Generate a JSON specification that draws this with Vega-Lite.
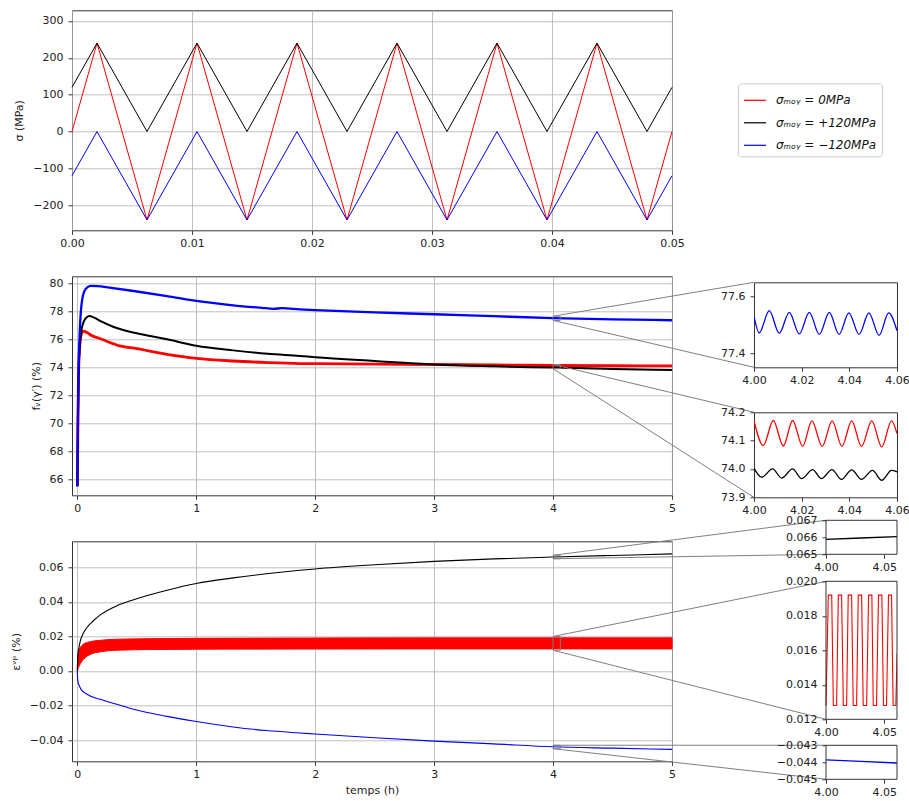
{
  "$schema": "https://vega.github.io/schema/vega-lite/v6.json",
  "autosize": {"type": "pad"},
  "padding": {"left": 9, "top": 9.3, "right": 0, "bottom": 5},
  "background": "white",
  "config": {
    "font": "DejaVu Sans",
    "view": {"stroke": "#333333", "strokeWidth": 1},
    "axis": {"domain": false, "labelFontSize": 11, "labelColor": "#222222", "tickColor": "#222222", "tickSize": 4, "tickWidth": 0.9, "titleFontSize": 11, "titleFontWeight": "normal", "titleColor": "#222222", "gridColor": "#b0b0b0", "gridWidth": 0.8, "labelFlush": false, "labelOverlap": false, "titlePadding": 8},
    "axisX": {"labelPadding": 3.5, "titlePadding": 5},
    "axisY": {"labelPadding": 5}
  },
  "datasets": {
    "sig": [
      {"t":0,"s":"0","v":0},{"t":0.002083,"s":"0","v":240},{"t":0.00625,"s":"0","v":-240},{"t":0.010417,"s":"0","v":240},{"t":0.014583,"s":"0","v":-240},{"t":0.01875,"s":"0","v":240},{"t":0.022917,"s":"0","v":-240},{"t":0.027083,"s":"0","v":240},{"t":0.03125,"s":"0","v":-240},{"t":0.035417,"s":"0","v":240},{"t":0.039583,"s":"0","v":-240},{"t":0.04375,"s":"0","v":240},{"t":0.047917,"s":"0","v":-240},{"t":0.05,"s":"0","v":0},
      {"t":0,"s":"+120","v":120},{"t":0.002083,"s":"+120","v":240},{"t":0.00625,"s":"+120","v":0},{"t":0.010417,"s":"+120","v":240},{"t":0.014583,"s":"+120","v":0},{"t":0.01875,"s":"+120","v":240},{"t":0.022917,"s":"+120","v":0},{"t":0.027083,"s":"+120","v":240},{"t":0.03125,"s":"+120","v":0},{"t":0.035417,"s":"+120","v":240},{"t":0.039583,"s":"+120","v":0},{"t":0.04375,"s":"+120","v":240},{"t":0.047917,"s":"+120","v":0},{"t":0.05,"s":"+120","v":120},
      {"t":0,"s":"-120","v":-120},{"t":0.002083,"s":"-120","v":0},{"t":0.00625,"s":"-120","v":-240},{"t":0.010417,"s":"-120","v":0},{"t":0.014583,"s":"-120","v":-240},{"t":0.01875,"s":"-120","v":0},{"t":0.022917,"s":"-120","v":-240},{"t":0.027083,"s":"-120","v":0},{"t":0.03125,"s":"-120","v":-240},{"t":0.035417,"s":"-120","v":0},{"t":0.039583,"s":"-120","v":-240},{"t":0.04375,"s":"-120","v":0},{"t":0.047917,"s":"-120","v":-240},{"t":0.05,"s":"-120","v":-120}
    ],
    "fv": [
      {"t":0,"s":"0","v":65.5},{"t":0.005,"s":"0","v":70.5},{"t":0.01,"s":"0","v":73.5},{"t":0.02,"s":"0","v":75.5},{"t":0.035,"s":"0","v":76.4},{"t":0.053,"s":"0","v":76.59},{"t":0.08,"s":"0","v":76.48},{"t":0.12,"s":"0","v":76.28},{"t":0.193,"s":"0","v":76.04},{"t":0.333,"s":"0","v":75.59},{"t":0.5,"s":"0","v":75.33},{"t":0.754,"s":"0","v":74.93},{"t":1.0,"s":"0","v":74.64},{"t":1.31,"s":"0","v":74.45},{"t":1.6,"s":"0","v":74.34},{"t":1.87,"s":"0","v":74.27},{"t":2.0,"s":"0","v":74.26},{"t":2.5,"s":"0","v":74.23},{"t":3.0,"s":"0","v":74.2},{"t":3.5,"s":"0","v":74.17},{"t":4.0,"s":"0","v":74.13},{"t":4.5,"s":"0","v":74.11},{"t":5.0,"s":"0","v":74.1},
      {"t":0,"s":"+120","v":65.5},{"t":0.005,"s":"+120","v":70.5},{"t":0.01,"s":"+120","v":73.3},{"t":0.02,"s":"+120","v":75.4},{"t":0.04,"s":"+120","v":76.9},{"t":0.07,"s":"+120","v":77.5},{"t":0.1,"s":"+120","v":77.66},{"t":0.14,"s":"+120","v":77.55},{"t":0.2,"s":"+120","v":77.28},{"t":0.3,"s":"+120","v":76.9},{"t":0.4,"s":"+120","v":76.63},{"t":0.5,"s":"+120","v":76.43},{"t":0.754,"s":"+120","v":76.0},{"t":1.0,"s":"+120","v":75.54},{"t":1.31,"s":"+120","v":75.21},{"t":1.6,"s":"+120","v":74.97},{"t":1.87,"s":"+120","v":74.81},{"t":2.0,"s":"+120","v":74.72},{"t":2.5,"s":"+120","v":74.45},{"t":3.0,"s":"+120","v":74.2},{"t":3.5,"s":"+120","v":74.07},{"t":4.0,"s":"+120","v":73.98},{"t":4.5,"s":"+120","v":73.88},{"t":5.0,"s":"+120","v":73.8},
      {"t":0,"s":"-120","v":65.5},{"t":0.005,"s":"-120","v":70},{"t":0.01,"s":"-120","v":73.5},{"t":0.02,"s":"-120","v":76.5},{"t":0.04,"s":"-120","v":78.8},{"t":0.07,"s":"-120","v":79.6},{"t":0.11,"s":"-120","v":79.82},{"t":0.17,"s":"-120","v":79.8},{"t":0.27,"s":"-120","v":79.69},{"t":0.473,"s":"-120","v":79.45},{"t":0.754,"s":"-120","v":79.09},{"t":1.0,"s":"-120","v":78.74},{"t":1.31,"s":"-120","v":78.43},{"t":1.55,"s":"-120","v":78.25},{"t":1.65,"s":"-120","v":78.18},{"t":1.72,"s":"-120","v":78.22},{"t":1.87,"s":"-120","v":78.14},{"t":2.0,"s":"-120","v":78.09},{"t":2.5,"s":"-120","v":77.92},{"t":3.0,"s":"-120","v":77.79},{"t":3.5,"s":"-120","v":77.65},{"t":4.0,"s":"-120","v":77.52},{"t":4.5,"s":"-120","v":77.43},{"t":5.0,"s":"-120","v":77.36}
    ],
    "eps": [
      {"t":0,"s":"+120","v":0},{"t":0.002,"s":"+120","v":0.006},{"t":0.005,"s":"+120","v":0.0095},{"t":0.011,"s":"+120","v":0.0126},{"t":0.025,"s":"+120","v":0.0175},{"t":0.05,"s":"+120","v":0.0218},{"t":0.081,"s":"+120","v":0.0252},{"t":0.13,"s":"+120","v":0.0288},{"t":0.193,"s":"+120","v":0.0325},{"t":0.333,"s":"+120","v":0.0378},{"t":0.473,"s":"+120","v":0.0413},{"t":0.754,"s":"+120","v":0.0468},{"t":1.0,"s":"+120","v":0.0507},{"t":1.31,"s":"+120","v":0.0539},{"t":1.59,"s":"+120","v":0.0563},{"t":1.87,"s":"+120","v":0.0583},{"t":2.0,"s":"+120","v":0.0591},{"t":2.5,"s":"+120","v":0.0615},{"t":3.0,"s":"+120","v":0.0635},{"t":3.5,"s":"+120","v":0.0649},{"t":4.0,"s":"+120","v":0.066},{"t":4.5,"s":"+120","v":0.0669},{"t":5.0,"s":"+120","v":0.0678},
      {"t":0,"s":"-120","v":0},{"t":0.002,"s":"-120","v":-0.004},{"t":0.006,"s":"-120","v":-0.0068},{"t":0.011,"s":"-120","v":-0.0077},{"t":0.03,"s":"-120","v":-0.0105},{"t":0.081,"s":"-120","v":-0.0135},{"t":0.193,"s":"-120","v":-0.0164},{"t":0.333,"s":"-120","v":-0.0193},{"t":0.473,"s":"-120","v":-0.0222},{"t":0.754,"s":"-120","v":-0.0263},{"t":1.0,"s":"-120","v":-0.0293},{"t":1.31,"s":"-120","v":-0.0324},{"t":1.59,"s":"-120","v":-0.0345},{"t":1.87,"s":"-120","v":-0.0359},{"t":2.0,"s":"-120","v":-0.0365},{"t":2.5,"s":"-120","v":-0.0387},{"t":3.0,"s":"-120","v":-0.0406},{"t":3.5,"s":"-120","v":-0.0422},{"t":4.0,"s":"-120","v":-0.0439},{"t":4.5,"s":"-120","v":-0.0447},{"t":5.0,"s":"-120","v":-0.0454}
    ],
    "band": [
      {"t":0,"lo":0,"hi":0.002},{"t":0.003,"lo":0.0008,"hi":0.008},{"t":0.01,"lo":0.002,"hi":0.0115},{"t":0.025,"lo":0.0042,"hi":0.0136},{"t":0.05,"lo":0.0066,"hi":0.0155},{"t":0.1,"lo":0.0093,"hi":0.0168},{"t":0.2,"lo":0.0112,"hi":0.0178},{"t":0.33,"lo":0.012,"hi":0.0184},{"t":0.6,"lo":0.0124,"hi":0.0187},{"t":1.0,"lo":0.0126,"hi":0.0189},{"t":2.0,"lo":0.0127,"hi":0.0191},{"t":3.0,"lo":0.0128,"hi":0.0192},{"t":5.0,"lo":0.0128,"hi":0.0192}
    ],
    "fvz": [
      {"t":4.0,"s":"-120","v":77.53},{"t":4.0022,"s":"-120","v":77.472},{"t":4.0064,"s":"-120","v":77.55},{"t":4.0106,"s":"-120","v":77.47},{"t":4.0148,"s":"-120","v":77.544},{"t":4.019,"s":"-120","v":77.468},{"t":4.0232,"s":"-120","v":77.544},{"t":4.0274,"s":"-120","v":77.466},{"t":4.0316,"s":"-120","v":77.544},{"t":4.0357,"s":"-120","v":77.466},{"t":4.0398,"s":"-120","v":77.542},{"t":4.0441,"s":"-120","v":77.466},{"t":4.0482,"s":"-120","v":77.542},{"t":4.0525,"s":"-120","v":77.463},{"t":4.0565,"s":"-120","v":77.542},{"t":4.06,"s":"-120","v":77.479},
      {"t":4.0,"s":"0","v":74.17},{"t":4.0039,"s":"0","v":74.083},{"t":4.0081,"s":"0","v":74.171},{"t":4.0123,"s":"0","v":74.081},{"t":4.0162,"s":"0","v":74.171},{"t":4.0204,"s":"0","v":74.08},{"t":4.0243,"s":"0","v":74.17},{"t":4.0286,"s":"0","v":74.08},{"t":4.0328,"s":"0","v":74.17},{"t":4.0369,"s":"0","v":74.08},{"t":4.041,"s":"0","v":74.17},{"t":4.0451,"s":"0","v":74.079},{"t":4.0494,"s":"0","v":74.17},{"t":4.0536,"s":"0","v":74.078},{"t":4.0577,"s":"0","v":74.17},{"t":4.06,"s":"0","v":74.125},
      {"t":4.0,"s":"+120","v":74.003},{"t":4.0032,"s":"+120","v":73.971},{"t":4.0078,"s":"+120","v":74.0},{"t":4.0116,"s":"+120","v":73.968},{"t":4.0162,"s":"+120","v":74.0},{"t":4.02,"s":"+120","v":73.966},{"t":4.0246,"s":"+120","v":73.998},{"t":4.0283,"s":"+120","v":73.966},{"t":4.0327,"s":"+120","v":73.998},{"t":4.0367,"s":"+120","v":73.963},{"t":4.041,"s":"+120","v":73.997},{"t":4.0451,"s":"+120","v":73.963},{"t":4.0497,"s":"+120","v":73.995},{"t":4.0536,"s":"+120","v":73.96},{"t":4.0577,"s":"+120","v":73.995},{"t":4.06,"s":"+120","v":73.99}
    ],
    "epsz": [
      {"t":4.0,"s":"+120","v":0.06588},{"t":4.03,"s":"+120","v":0.06596},{"t":4.061,"s":"+120","v":0.06604},
      {"t":4.0,"s":"-120","v":-0.04386},{"t":4.03,"s":"-120","v":-0.04395},{"t":4.061,"s":"-120","v":-0.04404},
      {"t":4.0,"s":"0","v":0.0128},{"t":4.002,"s":"0","v":0.0192},{"t":4.0049,"s":"0","v":0.0192},{"t":4.0063,"s":"0","v":0.0128},{"t":4.0091,"s":"0","v":0.0128},{"t":4.0106,"s":"0","v":0.0192},{"t":4.0134,"s":"0","v":0.0192},{"t":4.0149,"s":"0","v":0.0128},{"t":4.0177,"s":"0","v":0.0128},{"t":4.0191,"s":"0","v":0.0192},{"t":4.022,"s":"0","v":0.0192},{"t":4.0234,"s":"0","v":0.0128},{"t":4.0263,"s":"0","v":0.0128},{"t":4.0277,"s":"0","v":0.0192},{"t":4.0306,"s":"0","v":0.0192},{"t":4.032,"s":"0","v":0.0128},{"t":4.0349,"s":"0","v":0.0128},{"t":4.0366,"s":"0","v":0.0192},{"t":4.0394,"s":"0","v":0.0192},{"t":4.0406,"s":"0","v":0.0128},{"t":4.0434,"s":"0","v":0.0128},{"t":4.0451,"s":"0","v":0.0192},{"t":4.048,"s":"0","v":0.0192},{"t":4.0494,"s":"0","v":0.0128},{"t":4.052,"s":"0","v":0.0128},{"t":4.0537,"s":"0","v":0.0192},{"t":4.0563,"s":"0","v":0.0192},{"t":4.0577,"s":"0","v":0.0128},{"t":4.06,"s":"0","v":0.0128},{"t":4.0611,"s":"0","v":0.0158}
    ],
    "box": [
      {"p":"fv","t1":4.0,"t2":4.06,"lo":77.35,"hi":77.65},
      {"p":"fv","t1":4.0,"t2":4.06,"lo":73.9,"hi":74.2},
      {"p":"eps","t1":4.0,"t2":4.061,"lo":0.065,"hi":0.067},
      {"p":"eps","t1":4.0,"t2":4.061,"lo":0.012,"hi":0.02},
      {"p":"eps","t1":4.0,"t2":4.061,"lo":-0.045,"hi":-0.043}
    ],
    "link": [
      {"p":"fv","t1":4.0,"v1":77.65,"t2":5.689,"v2":80.07},
      {"p":"fv","t1":4.0,"v1":77.35,"t2":5.689,"v2":74.0},
      {"p":"fv","t1":4.0,"v1":74.2,"t2":5.689,"v2":70.79},
      {"p":"fv","t1":4.0,"v1":73.9,"t2":5.689,"v2":64.71},
      {"p":"eps","t1":4.0,"v1":0.067,"t2":6.295,"v2":0.0873},
      {"p":"eps","t1":4.0,"v1":0.065,"t2":6.295,"v2":0.0676},
      {"p":"eps","t1":4.0,"v1":0.02,"t2":6.295,"v2":0.0519},
      {"p":"eps","t1":4.0,"v1":0.012,"t2":6.295,"v2":-0.028},
      {"p":"eps","t1":4.0,"v1":-0.043,"t2":6.295,"v2":-0.043},
      {"p":"eps","t1":4.0,"v1":-0.045,"t2":6.295,"v2":-0.0627}
    ]
  },
  "spacing": 682,
  "bounds": "flush",
  "hconcat": [
    {
      "spacing": 46,
      "bounds": "flush",
      "vconcat": [
        {
          "width": 600, "height": 220,
          "data": {"name": "sig"},
          "mark": {"type": "line", "strokeWidth": 1},
          "encoding": {
            "x": {"field": "t", "type": "quantitative", "scale": {"domain": [0, 0.05], "nice": false, "zero": false}, "axis": {"values": [0, 0.01, 0.02, 0.03, 0.04, 0.05], "tickCount": 50, "format": ".2f", "title": null, "grid": true}},
            "y": {"field": "v", "type": "quantitative", "scale": {"domain": [-268, 329], "nice": false, "zero": false}, "axis": {"values": [-200, -100, 0, 100, 200, 300], "tickCount": 50, "title": "σ (MPa)", "grid": true}},
            "color": {"field": "s", "type": "nominal", "scale": {"domain": ["0", "+120", "-120"], "range": ["#ff0000", "#000000", "#0000ff"]},
              "legend": {"orient": "none", "legendX": 666, "legendY": 73, "title": null, "symbolType": "stroke", "symbolSize": 484, "symbolStrokeWidth": 1.2, "labelFontSize": 12, "labelFont": "DejaVu Sans", "labelFontStyle": "italic", "labelColor": "#111111", "labelOffset": 9, "padding": 5, "rowPadding": 4.5, "strokeColor": "#cccccc", "fillColor": "#ffffff", "cornerRadius": 3,
                "labelExpr": "datum.value == '0' ? 'σₘₒᵧ = 0MPa' : datum.value == '+120' ? 'σₘₒᵧ = +120MPa' : 'σₘₒᵧ = −120MPa'"}}
          }
        },
        {
          "width": 600, "height": 219,
          "layer": [
            {
              "data": {"name": "fv"}, "transform": [{"filter": "datum.s == '0'"}],
              "mark": {"type": "line", "color": "#ff0000", "strokeWidth": 2.8, "interpolate": "monotone"},
              "encoding": {
                "x": {"field": "t", "type": "quantitative", "scale": {"domain": [-0.045, 5.0], "nice": false, "zero": false}, "axis": {"values": [0, 1, 2, 3, 4, 5], "tickCount": 50, "format": "d", "title": null, "grid": true}},
                "y": {"field": "v", "type": "quantitative", "scale": {"domain": [64.86, 80.5], "nice": false, "zero": false}, "axis": {"values": [66, 68, 70, 72, 74, 76, 78, 80], "tickCount": 50, "format": "d", "title": "fᵥ(γ′) (%)", "grid": true}}
              }
            },
            {
              "data": {"name": "fv"}, "transform": [{"filter": "datum.s == '+120'"}],
              "mark": {"type": "line", "color": "#000000", "strokeWidth": 2.0, "interpolate": "monotone"},
              "encoding": {
                "x": {"field": "t", "type": "quantitative", "scale": {"domain": [-0.045, 5.0], "nice": false, "zero": false}},
                "y": {"field": "v", "type": "quantitative", "scale": {"domain": [64.86, 80.5], "nice": false, "zero": false}}
              }
            },
            {
              "data": {"name": "fv"}, "transform": [{"filter": "datum.s == '-120'"}],
              "mark": {"type": "line", "color": "#0000ff", "strokeWidth": 2.3, "interpolate": "monotone"},
              "encoding": {
                "x": {"field": "t", "type": "quantitative", "scale": {"domain": [-0.045, 5.0], "nice": false, "zero": false}},
                "y": {"field": "v", "type": "quantitative", "scale": {"domain": [64.86, 80.5], "nice": false, "zero": false}}
              }
            },
            {
              "data": {"name": "box"}, "transform": [{"filter": "datum.p == 'fv'"}],
              "mark": {"type": "rect", "fillOpacity": 0, "stroke": "#808080", "strokeWidth": 1},
              "encoding": {
                "x": {"field": "t1", "type": "quantitative", "scale": {"domain": [-0.045, 5.0], "nice": false, "zero": false}},
                "x2": {"field": "t2"},
                "y": {"field": "lo", "type": "quantitative", "scale": {"domain": [64.86, 80.5], "nice": false, "zero": false}},
                "y2": {"field": "hi"}
              }
            },
            {
              "data": {"name": "link"}, "transform": [{"filter": "datum.p == 'fv'"}],
              "mark": {"type": "rule", "color": "#808080", "strokeWidth": 1, "clip": false},
              "encoding": {
                "x": {"field": "t1", "type": "quantitative", "scale": {"domain": [-0.045, 5.0], "nice": false, "zero": false}},
                "x2": {"field": "t2"},
                "y": {"field": "v1", "type": "quantitative", "scale": {"domain": [64.86, 80.5], "nice": false, "zero": false}},
                "y2": {"field": "v2"}
              }
            }
          ]
        },
        {
          "width": 600, "height": 220,
          "layer": [
            {
              "data": {"name": "band"},
              "mark": {"type": "area", "color": "#ff0000", "stroke": "#ff0000", "strokeWidth": 1, "interpolate": "monotone"},
              "encoding": {
                "x": {"field": "t", "type": "quantitative", "scale": {"domain": [-0.045, 5.0], "nice": false, "zero": false}, "axis": {"values": [0, 1, 2, 3, 4, 5], "tickCount": 50, "format": "d", "title": "temps (h)", "grid": true}},
                "y": {"field": "lo", "type": "quantitative", "scale": {"domain": [-0.0523, 0.0751], "nice": false, "zero": false}, "axis": {"values": [-0.04, -0.02, 0, 0.02, 0.04, 0.06], "tickCount": 50, "format": ".2f", "title": "εᵛᵖ (%)", "grid": true}},
                "y2": {"field": "hi"}
              }
            },
            {
              "data": {"name": "eps"}, "transform": [{"filter": "datum.s == '+120'"}],
              "mark": {"type": "line", "color": "#000000", "strokeWidth": 1.1, "interpolate": "monotone"},
              "encoding": {
                "x": {"field": "t", "type": "quantitative", "scale": {"domain": [-0.045, 5.0], "nice": false, "zero": false}},
                "y": {"field": "v", "type": "quantitative", "scale": {"domain": [-0.0523, 0.0751], "nice": false, "zero": false}}
              }
            },
            {
              "data": {"name": "eps"}, "transform": [{"filter": "datum.s == '-120'"}],
              "mark": {"type": "line", "color": "#0000ff", "strokeWidth": 1.1, "interpolate": "monotone"},
              "encoding": {
                "x": {"field": "t", "type": "quantitative", "scale": {"domain": [-0.045, 5.0], "nice": false, "zero": false}},
                "y": {"field": "v", "type": "quantitative", "scale": {"domain": [-0.0523, 0.0751], "nice": false, "zero": false}}
              }
            },
            {
              "data": {"name": "box"}, "transform": [{"filter": "datum.p == 'eps'"}],
              "mark": {"type": "rect", "fillOpacity": 0, "stroke": "#808080", "strokeWidth": 1},
              "encoding": {
                "x": {"field": "t1", "type": "quantitative", "scale": {"domain": [-0.045, 5.0], "nice": false, "zero": false}},
                "x2": {"field": "t2"},
                "y": {"field": "lo", "type": "quantitative", "scale": {"domain": [-0.0523, 0.0751], "nice": false, "zero": false}},
                "y2": {"field": "hi"}
              }
            },
            {
              "data": {"name": "link"}, "transform": [{"filter": "datum.p == 'eps'"}],
              "mark": {"type": "rule", "color": "#808080", "strokeWidth": 1, "clip": false},
              "encoding": {
                "x": {"field": "t1", "type": "quantitative", "scale": {"domain": [-0.045, 5.0], "nice": false, "zero": false}},
                "x2": {"field": "t2"},
                "y": {"field": "v1", "type": "quantitative", "scale": {"domain": [-0.0523, 0.0751], "nice": false, "zero": false}},
                "y2": {"field": "v2"}
              }
            }
          ]
        }
      ]
    },
    {
      "spacing": 0,
      "bounds": "flush",
      "vconcat": [
        {"width": 1, "height": 272, "view": {"stroke": null}, "data": {"values": [{}]}, "mark": {"type": "point", "opacity": 0}},
        {
          "width": 143, "height": 85,
          "data": {"name": "fvz"},
          "transform": [{"filter": "datum.s == '-120'"}],
          "mark": {"type": "line", "color": "#0000ff", "strokeWidth": 1.3, "interpolate": "monotone", "clip": true},
          "encoding": {
            "x": {"field": "t", "type": "quantitative", "scale": {"domain": [4.0, 4.06], "nice": false, "zero": false}, "axis": {"values": [4.0, 4.02, 4.04, 4.06], "tickCount": 50, "format": ".2f", "title": null, "grid": false}},
            "y": {"field": "v", "type": "quantitative", "scale": {"domain": [77.35, 77.65], "nice": false, "zero": false}, "axis": {"values": [77.4, 77.6], "tickCount": 50, "format": ".1f", "title": null, "grid": false}}
          }
        },
        {"width": 1, "height": 45, "view": {"stroke": null}, "data": {"values": [{}]}, "mark": {"type": "point", "opacity": 0}},
        {
          "width": 143, "height": 85,
          "layer": [
            {
              "data": {"name": "fvz"}, "transform": [{"filter": "datum.s == '0'"}],
              "mark": {"type": "line", "color": "#ff0000", "strokeWidth": 1.3, "interpolate": "monotone", "clip": true},
              "encoding": {
                "x": {"field": "t", "type": "quantitative", "scale": {"domain": [4.0, 4.06], "nice": false, "zero": false}, "axis": {"values": [4.0, 4.02, 4.04, 4.06], "tickCount": 50, "format": ".2f", "title": null, "grid": false}},
                "y": {"field": "v", "type": "quantitative", "scale": {"domain": [73.9, 74.2], "nice": false, "zero": false}, "axis": {"values": [73.9, 74.0, 74.1, 74.2], "tickCount": 50, "format": ".1f", "title": null, "grid": false}}
              }
            },
            {
              "data": {"name": "fvz"}, "transform": [{"filter": "datum.s == '+120'"}],
              "mark": {"type": "line", "color": "#000000", "strokeWidth": 1.3, "interpolate": "monotone", "clip": true},
              "encoding": {
                "x": {"field": "t", "type": "quantitative", "scale": {"domain": [4.0, 4.06], "nice": false, "zero": false}},
                "y": {"field": "v", "type": "quantitative", "scale": {"domain": [73.9, 74.2], "nice": false, "zero": false}}
              }
            }
          ]
        },
        {"width": 1, "height": 23, "view": {"stroke": null}, "data": {"values": [{}]}, "mark": {"type": "point", "opacity": 0}},
        {
          "width": 143, "height": 34, "view": {"stroke": null},
          "layer": [
            {
              "data": {"name": "epsz"}, "transform": [{"filter": "datum.s == '+120'"}],
              "mark": {"type": "line", "color": "#000000", "strokeWidth": 1.3, "clip": true},
              "encoding": {
                "x": {"field": "t", "type": "quantitative", "scale": {"domain": [4.0, 4.061], "range": [72, 143], "nice": false, "zero": false}, "axis": {"values": [4.0, 4.05], "tickCount": 50, "format": ".2f", "title": null, "grid": false}},
                "y": {"field": "v", "type": "quantitative", "scale": {"domain": [0.065, 0.067], "nice": false, "zero": false}, "axis": {"values": [0.065, 0.066, 0.067], "tickCount": 50, "format": ".3f", "title": null, "grid": false, "offset": -72}}
              }
            },
            {
              "data": {"values": [{}]},
              "mark": {"type": "rect", "fillOpacity": 0, "stroke": "#333333", "strokeWidth": 1},
              "encoding": {"x": {"datum": 4.0, "type": "quantitative"}, "x2": {"datum": 4.061}, "y": {"datum": 0.065, "type": "quantitative"}, "y2": {"datum": 0.067}}
            }
          ]
        },
        {"width": 1, "height": 27, "view": {"stroke": null}, "data": {"values": [{}]}, "mark": {"type": "point", "opacity": 0}},
        {
          "width": 143, "height": 138, "view": {"stroke": null},
          "layer": [
            {
              "data": {"name": "epsz"}, "transform": [{"filter": "datum.s == '0'"}],
              "mark": {"type": "line", "color": "#ff0000", "strokeWidth": 1.1, "clip": true},
              "encoding": {
                "x": {"field": "t", "type": "quantitative", "scale": {"domain": [4.0, 4.061], "range": [72, 143], "nice": false, "zero": false}, "axis": {"values": [4.0, 4.05], "tickCount": 50, "format": ".2f", "title": null, "grid": false}},
                "y": {"field": "v", "type": "quantitative", "scale": {"domain": [0.012, 0.02], "nice": false, "zero": false}, "axis": {"values": [0.012, 0.014, 0.016, 0.018, 0.02], "tickCount": 50, "format": ".3f", "title": null, "grid": false, "offset": -72}}
              }
            },
            {
              "data": {"values": [{}]},
              "mark": {"type": "rect", "fillOpacity": 0, "stroke": "#333333", "strokeWidth": 1},
              "encoding": {"x": {"datum": 4.0, "type": "quantitative"}, "x2": {"datum": 4.061}, "y": {"datum": 0.012, "type": "quantitative"}, "y2": {"datum": 0.02}}
            }
          ]
        },
        {"width": 1, "height": 26, "view": {"stroke": null}, "data": {"values": [{}]}, "mark": {"type": "point", "opacity": 0}},
        {
          "width": 143, "height": 34, "view": {"stroke": null},
          "layer": [
            {
              "data": {"name": "epsz"}, "transform": [{"filter": "datum.s == '-120'"}],
              "mark": {"type": "line", "color": "#0000ff", "strokeWidth": 1.3, "clip": true},
              "encoding": {
                "x": {"field": "t", "type": "quantitative", "scale": {"domain": [4.0, 4.061], "range": [72, 143], "nice": false, "zero": false}, "axis": {"values": [4.0, 4.05], "tickCount": 50, "format": ".2f", "title": null, "grid": false}},
                "y": {"field": "v", "type": "quantitative", "scale": {"domain": [-0.045, -0.043], "nice": false, "zero": false}, "axis": {"values": [-0.045, -0.044, -0.043], "tickCount": 50, "format": ".3f", "title": null, "grid": false, "offset": -72}}
              }
            },
            {
              "data": {"values": [{}]},
              "mark": {"type": "rect", "fillOpacity": 0, "stroke": "#333333", "strokeWidth": 1},
              "encoding": {"x": {"datum": 4.0, "type": "quantitative"}, "x2": {"datum": 4.061}, "y": {"datum": -0.045, "type": "quantitative"}, "y2": {"datum": -0.043}}
            }
          ]
        }
      ]
    }
  ]
}
